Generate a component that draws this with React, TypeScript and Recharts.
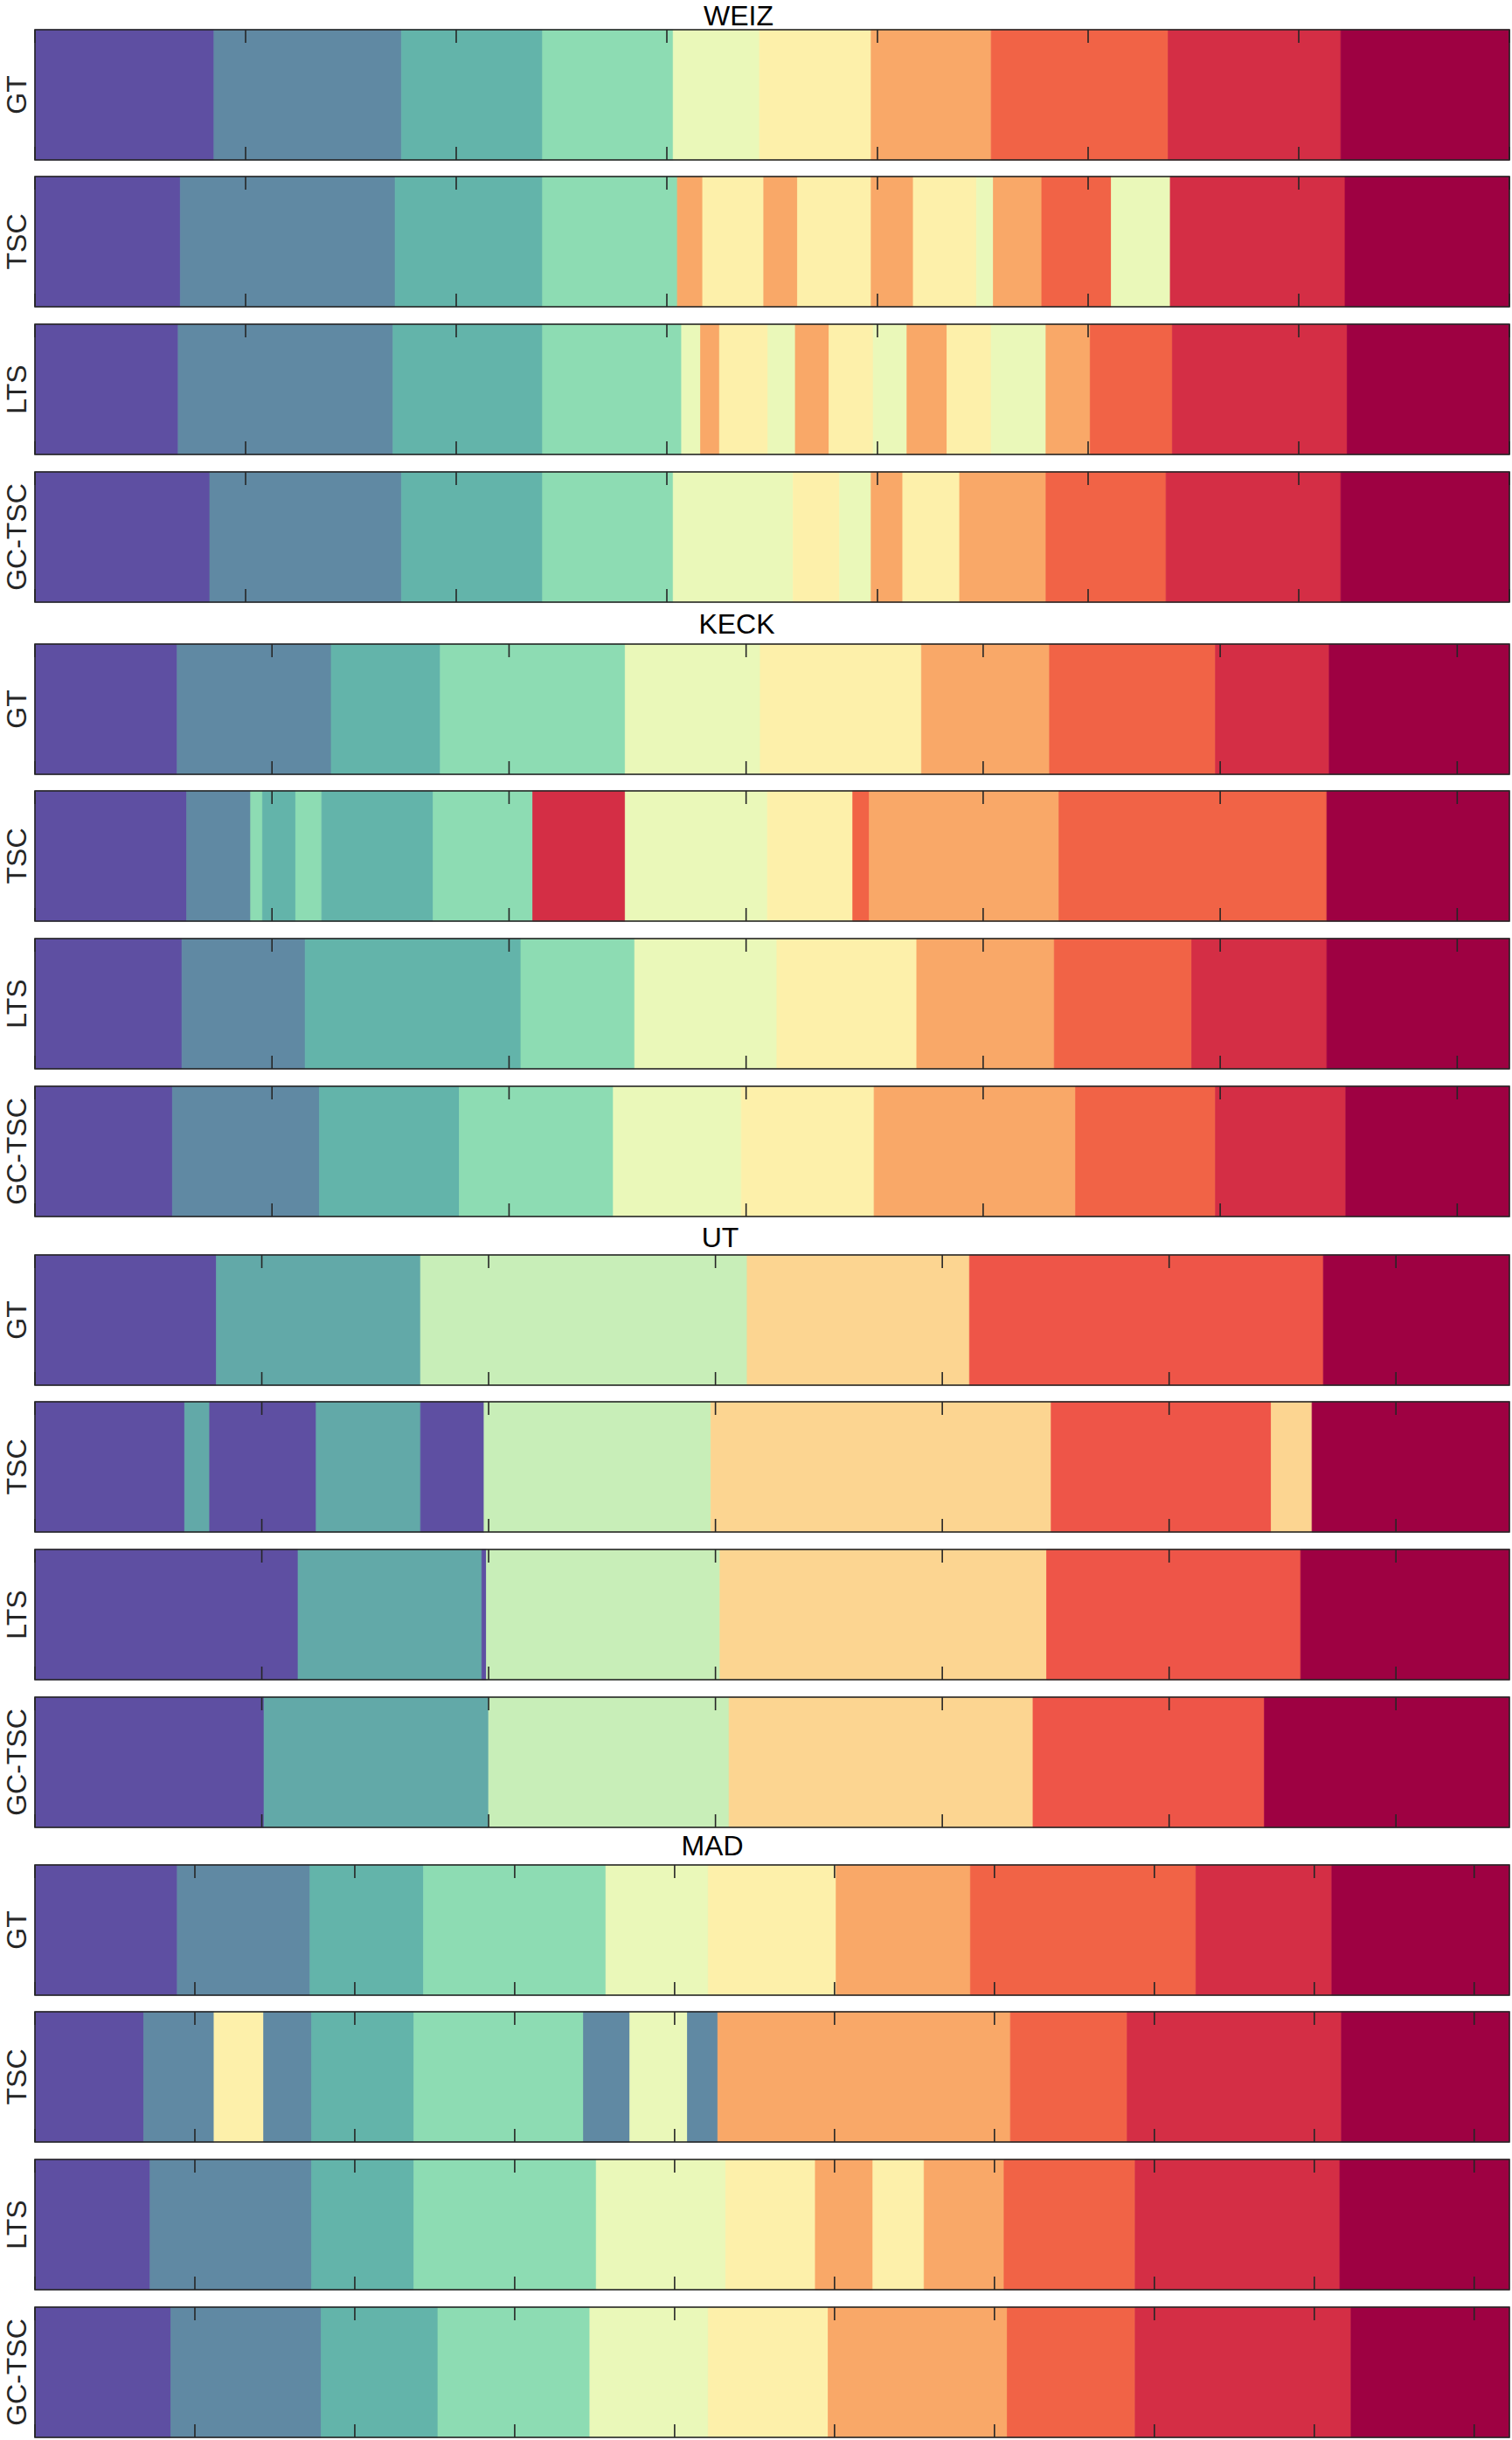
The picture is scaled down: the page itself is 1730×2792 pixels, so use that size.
import React from 'react';
import { BarChart, Bar, XAxis, YAxis, ReferenceArea, ReferenceLine, Label } from 'recharts';

// ---------- data ----------
const datasets = ['WEIZ', 'KECK', 'UT', 'MAD'];
const methods = ['GT', 'TSC', 'LTS', 'GC-TSC'];
const frameTotals = [700, 622, 650, 922];
const tickStep = 100;

const spectral10 = ['#5E4FA2', '#6089A3', '#63B4AA', '#8DDCB3', '#EAF8B9', '#FDF0AA', '#F9A868', '#F16346', '#D42E45', '#9E0142'];
const spectral6 = ['#5E4FA2', '#62A9A8', '#C8EEB8', '#FCD591', '#EE5548', '#9E0142'];

// segments: [end frame, action class]
const weizGT = [[85, 1], [174, 2], [241, 3], [303, 4], [344, 5], [397, 6], [454, 7], [538, 8], [620, 9], [700, 10]];
const weizTSC = [[69, 1], [171, 2], [241, 3], [305, 4], [317, 7], [346, 6], [362, 7], [397, 6], [417, 7], [447, 6], [455, 5], [478, 7], [511, 8], [539, 5], [622, 9], [700, 10]];
const weizLTS = [[68, 1], [170, 2], [241, 3], [307, 4], [316, 5], [325, 7], [348, 6], [361, 5], [377, 7], [398, 6], [414, 5], [433, 7], [454, 6], [480, 5], [501, 7], [540, 8], [623, 9], [700, 10]];
const weizGCTSC = [[83, 1], [174, 2], [241, 3], [303, 4], [360, 5], [382, 6], [397, 5], [412, 7], [439, 6], [480, 7], [537, 8], [620, 9], [700, 10]];

const keckGT = [[60, 1], [125, 2], [171, 3], [249, 4], [306, 5], [374, 6], [428, 7], [498, 8], [546, 9], [622, 10]];
const keckTSC = [[64, 1], [91, 2], [96, 4], [110, 3], [121, 4], [168, 3], [210, 4], [249, 9], [309, 5], [345, 6], [352, 8], [432, 7], [545, 8], [622, 10]];
const keckLTS = [[62, 1], [114, 2], [205, 3], [253, 4], [313, 5], [372, 6], [430, 7], [488, 8], [545, 9], [622, 10]];
const keckGCTSC = [[58, 1], [120, 2], [179, 3], [244, 4], [298, 5], [354, 6], [439, 7], [498, 8], [553, 9], [622, 10]];

const utGT = [[80, 1], [170, 2], [314, 3], [412, 4], [568, 5], [650, 6]];
const utTSC = [[66, 1], [77, 2], [124, 1], [170, 2], [198, 1], [298, 3], [448, 4], [545, 5], [563, 4], [650, 6]];
const utLTS = [[116, 1], [197, 2], [199, 1], [302, 3], [446, 4], [558, 5], [650, 6]];
const utGCTSC = [[101, 1], [200, 2], [306, 3], [440, 4], [542, 5], [650, 6]];

const madGT = [[89, 1], [172, 2], [243, 3], [357, 4], [421, 5], [501, 6], [585, 7], [726, 8], [811, 9], [922, 10]];
const madTSC = [[68, 1], [112, 2], [143, 6], [173, 2], [237, 3], [343, 4], [372, 2], [408, 5], [427, 2], [610, 7], [683, 8], [817, 9], [922, 10]];
const madLTS = [[72, 1], [173, 2], [237, 3], [351, 4], [432, 5], [488, 6], [524, 7], [556, 6], [606, 7], [688, 8], [816, 9], [922, 10]];
const madGCTSC = [[85, 1], [179, 2], [252, 3], [347, 4], [421, 5], [496, 6], [608, 7], [688, 8], [823, 9], [922, 10]];

const groupSegments = [
  [weizGT, weizTSC, weizLTS, weizGCTSC],
  [keckGT, keckTSC, keckLTS, keckGCTSC],
  [utGT, utTSC, utLTS, utGCTSC],
  [madGT, madTSC, madLTS, madGCTSC],
];
const groupPalettes = [spectral10, spectral10, spectral6, spectral10];

// ---------- layout ----------
const FIG_W = 1730;
const FIG_H = 2792;
const PLOT_LEFT = 40;
const PLOT_RIGHT = 1727;
const STRIP_H = 149;
const TICK_LEN = 15;
const groupTops = [34, 737, 1436, 2134];
const stripOffsets = [0, 168, 337, 506];
const titleBaselines = [29, 725, 1427, 2123];
const titleCenters = [845, 843, 824, 815];
const INK = '#262626';
const FONT = '"Liberation Sans", Arial, Helvetica, sans-serif';

type Seg = number[];

const tickShape = (p: any) => {
  const top = Math.min(p.y1, p.y2);
  const bottom = Math.max(p.y1, p.y2);
  const x = p.x1;
  return (
    <g>
      <line x1={x} x2={x} y1={top} y2={top + TICK_LEN} stroke={INK} strokeWidth={1.6} />
      <line x1={x} x2={x} y1={bottom - TICK_LEN} y2={bottom} stroke={INK} strokeWidth={1.6} />
    </g>
  );
};

const borderShape = (p: any) => (
  <rect x={p.x} y={p.y} width={p.width} height={p.height} fill="none" stroke={INK} strokeWidth={1.6} />
);

function Strip({ segs, palette, total, label, top }: { segs: Seg[]; palette: string[]; total: number; label: string; top: number }) {
  const row: Record<string, any> = { name: label };
  let prev = 0;
  segs.forEach(([end], i) => {
    row[`s${i}`] = end - prev;
    prev = end;
  });
  const ticks: number[] = [];
  for (let t = 0; t <= total; t += tickStep) ticks.push(t);

  return (
    <div style={{ position: 'absolute', left: 0, top: top - 1 }}>
      <BarChart
        width={FIG_W}
        height={STRIP_H + 2}
        data={[row]}
        layout="vertical"
        margin={{ top: 1, right: FIG_W - PLOT_RIGHT, bottom: 1, left: 0 }}
        barCategoryGap={0}
        barGap={0}
      >
        <XAxis type="number" domain={[0, total]} ticks={ticks} hide />
        <YAxis type="category" dataKey="name" width={PLOT_LEFT} tick={false} axisLine={false} tickLine={false}>
          <Label value={label} angle={-90} position="center" dx={-1} fill={INK} fontSize={32} fontFamily={FONT} />
        </YAxis>
        {segs.map(([, cls], i) => (
          <Bar
            key={i}
            dataKey={`s${i}`}
            stackId="a"
            fill={palette[cls - 1]}
            stroke={palette[cls - 1]}
            strokeWidth={0.8}
            isAnimationActive={false}
          />
        ))}
        {ticks.map((t) => (
          <ReferenceLine key={t} x={t} shape={tickShape} {...({ zIndex: 700 } as any)} />
        ))}
        <ReferenceArea x1={0} x2={total} shape={borderShape} ifOverflow="visible" {...({ zIndex: 700 } as any)} />
      </BarChart>
    </div>
  );
}

export default function App() {
  return (
    <div style={{ position: 'absolute', left: 0, top: 0, width: FIG_W, height: FIG_H, background: '#fff' }}>
      {datasets.map((ds, g) => (
        <React.Fragment key={ds}>
          <div
            style={{
              position: 'absolute',
              left: titleCenters[g] - 200,
              width: 400,
              top: titleBaselines[g] - 27,
              textAlign: 'center',
              fontFamily: FONT,
              fontSize: 32,
              lineHeight: '32px',
              color: '#000',
            }}
          >
            {ds}
          </div>
          {methods.map((m, r) => (
            <Strip
              key={m}
              segs={groupSegments[g][r]}
              palette={groupPalettes[g]}
              total={frameTotals[g]}
              label={m}
              top={groupTops[g] + stripOffsets[r]}
            />
          ))}
        </React.Fragment>
      ))}
    </div>
  );
}
